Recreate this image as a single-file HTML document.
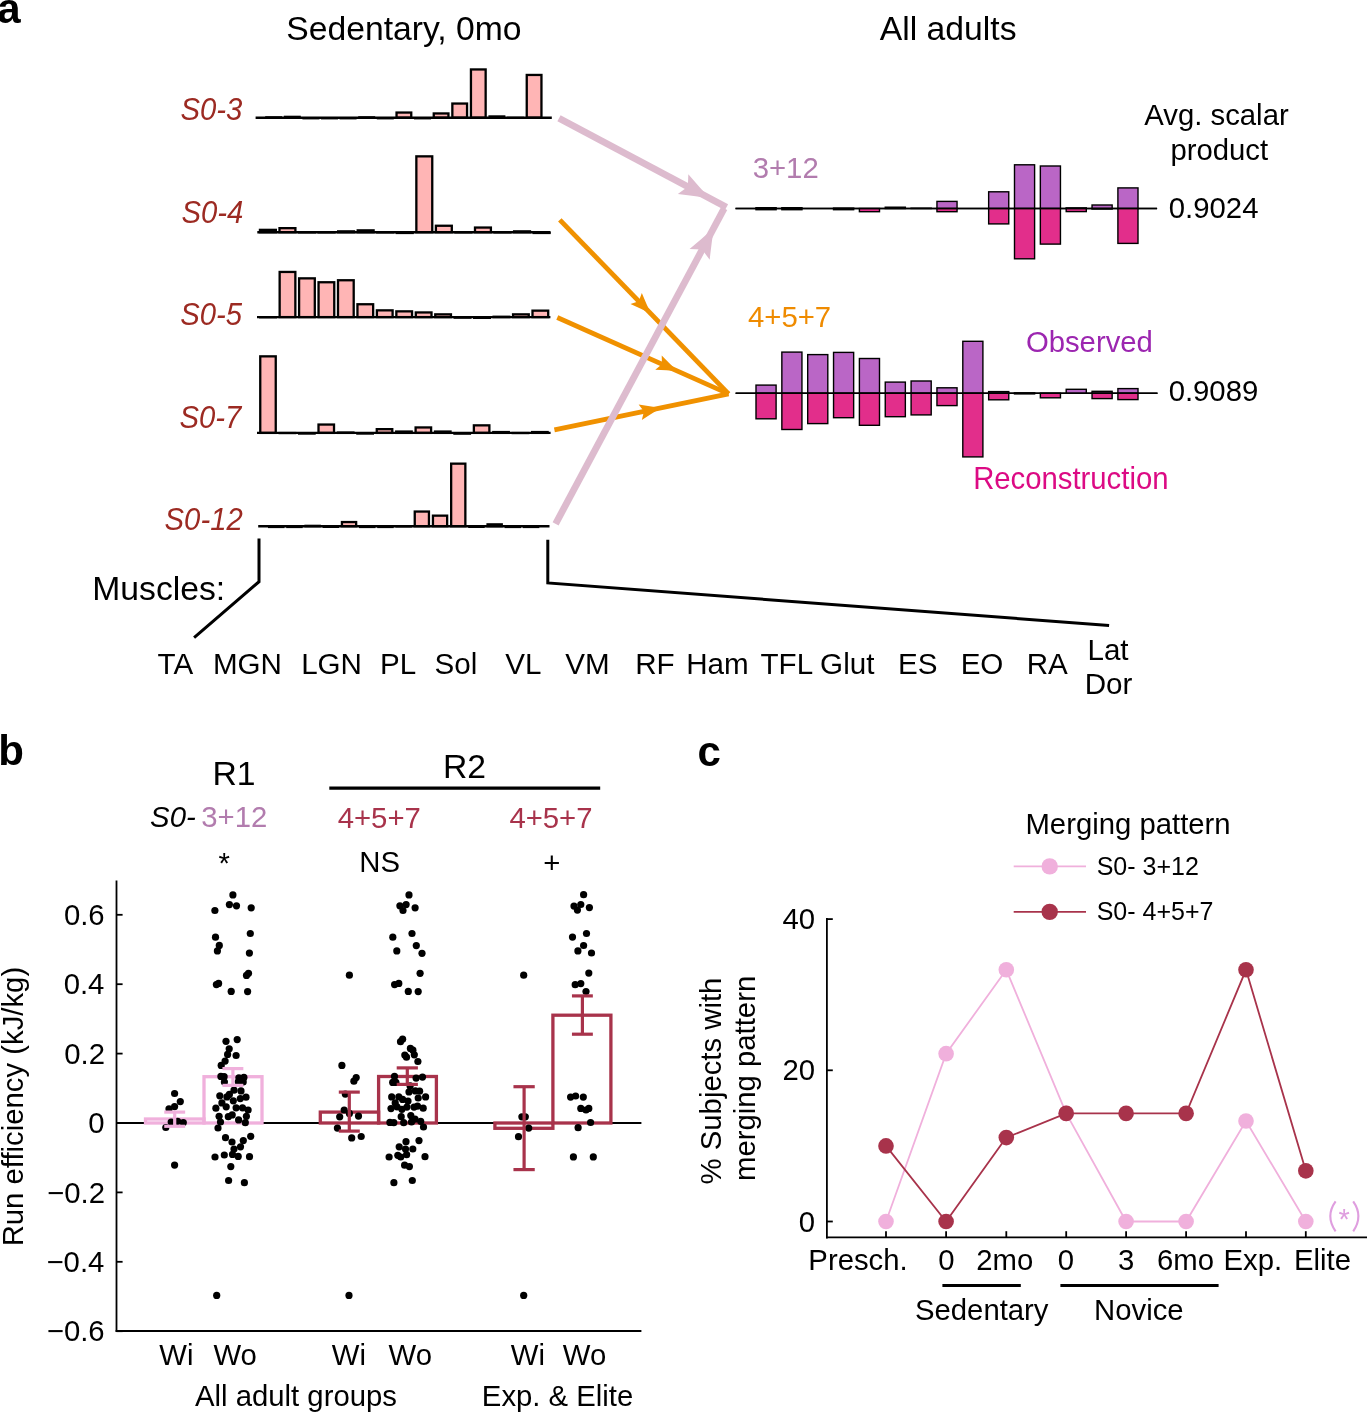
<!DOCTYPE html>
<html><head><meta charset="utf-8"><style>
html,body{margin:0;padding:0;background:#fff;}
svg{display:block;will-change:transform;}
text{font-family:"Liberation Sans",sans-serif;}
</style></head><body>
<svg width="1367" height="1413" viewBox="0 0 1367 1413">
<rect width="1367" height="1413" fill="#fff"/>
<text x="-2.83" y="22.70" font-size="42.0" fill="#000" font-weight="bold">a</text>
<text x="286.28" y="40.10" font-size="33.7" fill="#000">Sedentary, 0mo</text>
<text x="879.80" y="39.90" font-size="33.7" fill="#000">All adults</text>
<text x="0" y="0" transform="translate(180.52,120.40) scale(1,1.07)" font-size="29.3" fill="#9c2a22" font-style="italic">S0-3</text>
<rect x="266.35" y="117.35" width="14.70" height="0.35" fill="#ffb5b5" stroke="#000" stroke-width="2.3"/>
<rect x="284.95" y="116.85" width="14.70" height="0.85" fill="#ffb5b5" stroke="#000" stroke-width="2.3"/>
<rect x="303.55" y="118.25" width="14.70" height="0.01" fill="#ffb5b5" stroke="#000" stroke-width="2.3"/>
<rect x="322.15" y="118.25" width="14.70" height="0.01" fill="#ffb5b5" stroke="#000" stroke-width="2.3"/>
<rect x="340.75" y="118.25" width="14.70" height="0.01" fill="#ffb5b5" stroke="#000" stroke-width="2.3"/>
<rect x="359.35" y="117.35" width="14.70" height="0.35" fill="#ffb5b5" stroke="#000" stroke-width="2.3"/>
<rect x="377.95" y="118.25" width="14.70" height="0.01" fill="#ffb5b5" stroke="#000" stroke-width="2.3"/>
<rect x="396.55" y="112.55" width="14.70" height="5.15" fill="#ffb5b5" stroke="#000" stroke-width="2.3"/>
<rect x="415.15" y="118.25" width="14.70" height="0.01" fill="#ffb5b5" stroke="#000" stroke-width="2.3"/>
<rect x="433.75" y="113.45" width="14.70" height="4.25" fill="#ffb5b5" stroke="#000" stroke-width="2.3"/>
<rect x="452.35" y="103.55" width="14.70" height="14.15" fill="#ffb5b5" stroke="#000" stroke-width="2.3"/>
<rect x="470.95" y="69.45" width="14.70" height="48.25" fill="#ffb5b5" stroke="#000" stroke-width="2.3"/>
<rect x="489.55" y="116.45" width="14.70" height="1.25" fill="#ffb5b5" stroke="#000" stroke-width="2.3"/>
<rect x="508.15" y="117.85" width="14.70" height="0.01" fill="#ffb5b5" stroke="#000" stroke-width="2.3"/>
<rect x="526.75" y="74.95" width="14.70" height="42.75" fill="#ffb5b5" stroke="#000" stroke-width="2.3"/>
<line x1="255.60" y1="117.70" x2="551.80" y2="117.70" stroke="#000" stroke-width="2.4" stroke-linecap="butt"/>
<text x="0" y="0" transform="translate(181.40,223.10) scale(1,1.07)" font-size="29.3" fill="#9c2a22" font-style="italic">S0-4</text>
<rect x="259.95" y="229.85" width="15.90" height="2.35" fill="#ffb5b5" stroke="#000" stroke-width="2.3"/>
<rect x="279.50" y="228.15" width="15.90" height="4.05" fill="#ffb5b5" stroke="#000" stroke-width="2.3"/>
<rect x="299.05" y="232.35" width="15.90" height="0.01" fill="#ffb5b5" stroke="#000" stroke-width="2.3"/>
<rect x="318.60" y="232.35" width="15.90" height="0.01" fill="#ffb5b5" stroke="#000" stroke-width="2.3"/>
<rect x="338.15" y="231.35" width="15.90" height="0.85" fill="#ffb5b5" stroke="#000" stroke-width="2.3"/>
<rect x="357.70" y="230.35" width="15.90" height="1.85" fill="#ffb5b5" stroke="#000" stroke-width="2.3"/>
<rect x="377.25" y="232.35" width="15.90" height="0.01" fill="#ffb5b5" stroke="#000" stroke-width="2.3"/>
<rect x="396.80" y="232.95" width="15.90" height="0.01" fill="#ffb5b5" stroke="#000" stroke-width="2.3"/>
<rect x="416.35" y="156.35" width="15.90" height="75.85" fill="#ffb5b5" stroke="#000" stroke-width="2.3"/>
<rect x="435.90" y="225.75" width="15.90" height="6.45" fill="#ffb5b5" stroke="#000" stroke-width="2.3"/>
<rect x="455.45" y="232.35" width="15.90" height="0.01" fill="#ffb5b5" stroke="#000" stroke-width="2.3"/>
<rect x="475.00" y="227.55" width="15.90" height="4.65" fill="#ffb5b5" stroke="#000" stroke-width="2.3"/>
<rect x="494.55" y="232.35" width="15.90" height="0.01" fill="#ffb5b5" stroke="#000" stroke-width="2.3"/>
<rect x="514.10" y="231.35" width="15.90" height="0.85" fill="#ffb5b5" stroke="#000" stroke-width="2.3"/>
<rect x="533.65" y="232.95" width="15.90" height="0.01" fill="#ffb5b5" stroke="#000" stroke-width="2.3"/>
<line x1="257.30" y1="232.20" x2="550.50" y2="232.20" stroke="#000" stroke-width="2.4" stroke-linecap="butt"/>
<text x="0" y="0" transform="translate(180.23,325.40) scale(1,1.07)" font-size="29.3" fill="#9c2a22" font-style="italic">S0-5</text>
<rect x="260.20" y="317.25" width="15.70" height="0.01" fill="#ffb5b5" stroke="#000" stroke-width="2.3"/>
<rect x="279.65" y="271.95" width="15.70" height="45.15" fill="#ffb5b5" stroke="#000" stroke-width="2.3"/>
<rect x="299.10" y="278.35" width="15.70" height="38.75" fill="#ffb5b5" stroke="#000" stroke-width="2.3"/>
<rect x="318.55" y="282.25" width="15.70" height="34.85" fill="#ffb5b5" stroke="#000" stroke-width="2.3"/>
<rect x="338.00" y="280.25" width="15.70" height="36.85" fill="#ffb5b5" stroke="#000" stroke-width="2.3"/>
<rect x="357.45" y="304.25" width="15.70" height="12.85" fill="#ffb5b5" stroke="#000" stroke-width="2.3"/>
<rect x="376.90" y="310.35" width="15.70" height="6.75" fill="#ffb5b5" stroke="#000" stroke-width="2.3"/>
<rect x="396.35" y="311.35" width="15.70" height="5.75" fill="#ffb5b5" stroke="#000" stroke-width="2.3"/>
<rect x="415.80" y="312.45" width="15.70" height="4.65" fill="#ffb5b5" stroke="#000" stroke-width="2.3"/>
<rect x="435.25" y="314.35" width="15.70" height="2.75" fill="#ffb5b5" stroke="#000" stroke-width="2.3"/>
<rect x="454.70" y="317.65" width="15.70" height="0.01" fill="#ffb5b5" stroke="#000" stroke-width="2.3"/>
<rect x="474.15" y="317.85" width="15.70" height="0.01" fill="#ffb5b5" stroke="#000" stroke-width="2.3"/>
<rect x="493.60" y="316.75" width="15.70" height="0.35" fill="#ffb5b5" stroke="#000" stroke-width="2.3"/>
<rect x="513.05" y="314.35" width="15.70" height="2.75" fill="#ffb5b5" stroke="#000" stroke-width="2.3"/>
<rect x="532.50" y="310.65" width="15.70" height="6.45" fill="#ffb5b5" stroke="#000" stroke-width="2.3"/>
<line x1="257.00" y1="317.10" x2="550.40" y2="317.10" stroke="#000" stroke-width="2.4" stroke-linecap="butt"/>
<text x="0" y="0" transform="translate(179.50,428.30) scale(1,1.07)" font-size="29.3" fill="#9c2a22" font-style="italic">S0-7</text>
<rect x="260.25" y="356.35" width="15.50" height="76.55" fill="#ffb5b5" stroke="#000" stroke-width="2.3"/>
<rect x="279.67" y="433.05" width="15.50" height="0.01" fill="#ffb5b5" stroke="#000" stroke-width="2.3"/>
<rect x="299.09" y="433.55" width="15.50" height="0.01" fill="#ffb5b5" stroke="#000" stroke-width="2.3"/>
<rect x="318.51" y="424.55" width="15.50" height="8.35" fill="#ffb5b5" stroke="#000" stroke-width="2.3"/>
<rect x="337.93" y="432.55" width="15.50" height="0.35" fill="#ffb5b5" stroke="#000" stroke-width="2.3"/>
<rect x="357.35" y="433.55" width="15.50" height="0.01" fill="#ffb5b5" stroke="#000" stroke-width="2.3"/>
<rect x="376.77" y="429.15" width="15.50" height="3.75" fill="#ffb5b5" stroke="#000" stroke-width="2.3"/>
<rect x="396.19" y="431.55" width="15.50" height="1.35" fill="#ffb5b5" stroke="#000" stroke-width="2.3"/>
<rect x="415.61" y="427.45" width="15.50" height="5.45" fill="#ffb5b5" stroke="#000" stroke-width="2.3"/>
<rect x="435.03" y="431.55" width="15.50" height="1.35" fill="#ffb5b5" stroke="#000" stroke-width="2.3"/>
<rect x="454.45" y="433.65" width="15.50" height="0.01" fill="#ffb5b5" stroke="#000" stroke-width="2.3"/>
<rect x="473.87" y="425.35" width="15.50" height="7.55" fill="#ffb5b5" stroke="#000" stroke-width="2.3"/>
<rect x="493.29" y="432.05" width="15.50" height="0.85" fill="#ffb5b5" stroke="#000" stroke-width="2.3"/>
<rect x="512.71" y="433.05" width="15.50" height="0.01" fill="#ffb5b5" stroke="#000" stroke-width="2.3"/>
<rect x="532.13" y="432.05" width="15.50" height="0.85" fill="#ffb5b5" stroke="#000" stroke-width="2.3"/>
<line x1="257.00" y1="432.90" x2="550.60" y2="432.90" stroke="#000" stroke-width="2.4" stroke-linecap="butt"/>
<text x="0" y="0" transform="translate(164.56,529.80) scale(1,1.07)" font-size="29.3" fill="#9c2a22" font-style="italic">S0-12</text>
<rect x="269.15" y="526.95" width="14.20" height="0.01" fill="#ffb5b5" stroke="#000" stroke-width="2.3"/>
<rect x="287.35" y="526.95" width="14.20" height="0.01" fill="#ffb5b5" stroke="#000" stroke-width="2.3"/>
<rect x="305.55" y="525.85" width="14.20" height="0.35" fill="#ffb5b5" stroke="#000" stroke-width="2.3"/>
<rect x="323.75" y="526.85" width="14.20" height="0.01" fill="#ffb5b5" stroke="#000" stroke-width="2.3"/>
<rect x="341.95" y="522.05" width="14.20" height="4.15" fill="#ffb5b5" stroke="#000" stroke-width="2.3"/>
<rect x="360.15" y="526.95" width="14.20" height="0.01" fill="#ffb5b5" stroke="#000" stroke-width="2.3"/>
<rect x="378.35" y="526.95" width="14.20" height="0.01" fill="#ffb5b5" stroke="#000" stroke-width="2.3"/>
<rect x="396.55" y="526.35" width="14.20" height="0.01" fill="#ffb5b5" stroke="#000" stroke-width="2.3"/>
<rect x="414.75" y="511.55" width="14.20" height="14.65" fill="#ffb5b5" stroke="#000" stroke-width="2.3"/>
<rect x="432.95" y="515.65" width="14.20" height="10.55" fill="#ffb5b5" stroke="#000" stroke-width="2.3"/>
<rect x="451.15" y="463.65" width="14.20" height="62.55" fill="#ffb5b5" stroke="#000" stroke-width="2.3"/>
<rect x="469.35" y="526.85" width="14.20" height="0.01" fill="#ffb5b5" stroke="#000" stroke-width="2.3"/>
<rect x="487.55" y="524.35" width="14.20" height="1.85" fill="#ffb5b5" stroke="#000" stroke-width="2.3"/>
<rect x="505.75" y="526.95" width="14.20" height="0.01" fill="#ffb5b5" stroke="#000" stroke-width="2.3"/>
<rect x="523.95" y="526.95" width="14.20" height="0.01" fill="#ffb5b5" stroke="#000" stroke-width="2.3"/>
<line x1="258.20" y1="526.20" x2="549.50" y2="526.20" stroke="#000" stroke-width="2.4" stroke-linecap="butt"/>
<line x1="735.50" y1="208.50" x2="1157.10" y2="208.50" stroke="#000" stroke-width="1.6" stroke-linecap="butt"/>
<rect x="756.00" y="207.70" width="20.10" height="0.80" fill="#ba66c6" stroke="#000" stroke-width="1.4"/>
<rect x="756.00" y="208.50" width="20.10" height="1.20" fill="#e22e8b" stroke="#000" stroke-width="1.4"/>
<rect x="781.85" y="207.70" width="20.10" height="0.80" fill="#ba66c6" stroke="#000" stroke-width="1.4"/>
<rect x="781.85" y="208.50" width="20.10" height="1.20" fill="#e22e8b" stroke="#000" stroke-width="1.4"/>
<rect x="833.55" y="208.20" width="20.10" height="0.30" fill="#ba66c6" stroke="#000" stroke-width="1.4"/>
<rect x="833.55" y="208.50" width="20.10" height="1.20" fill="#e22e8b" stroke="#000" stroke-width="1.4"/>
<rect x="859.40" y="208.50" width="20.10" height="3.20" fill="#e22e8b" stroke="#000" stroke-width="1.4"/>
<rect x="885.25" y="207.20" width="20.10" height="1.30" fill="#ba66c6" stroke="#000" stroke-width="1.4"/>
<rect x="911.10" y="208.20" width="20.10" height="0.30" fill="#ba66c6" stroke="#000" stroke-width="1.4"/>
<rect x="936.95" y="201.40" width="20.10" height="7.10" fill="#ba66c6" stroke="#000" stroke-width="1.4"/>
<rect x="936.95" y="208.50" width="20.10" height="3.20" fill="#e22e8b" stroke="#000" stroke-width="1.4"/>
<rect x="988.65" y="191.80" width="20.10" height="16.70" fill="#ba66c6" stroke="#000" stroke-width="1.4"/>
<rect x="988.65" y="208.50" width="20.10" height="15.40" fill="#e22e8b" stroke="#000" stroke-width="1.4"/>
<rect x="1014.50" y="164.80" width="20.10" height="43.70" fill="#ba66c6" stroke="#000" stroke-width="1.4"/>
<rect x="1014.50" y="208.50" width="20.10" height="50.30" fill="#e22e8b" stroke="#000" stroke-width="1.4"/>
<rect x="1040.35" y="166.00" width="20.10" height="42.50" fill="#ba66c6" stroke="#000" stroke-width="1.4"/>
<rect x="1040.35" y="208.50" width="20.10" height="35.60" fill="#e22e8b" stroke="#000" stroke-width="1.4"/>
<rect x="1066.20" y="207.90" width="20.10" height="0.60" fill="#ba66c6" stroke="#000" stroke-width="1.4"/>
<rect x="1066.20" y="208.50" width="20.10" height="3.10" fill="#e22e8b" stroke="#000" stroke-width="1.4"/>
<rect x="1092.05" y="205.00" width="20.10" height="3.50" fill="#ba66c6" stroke="#000" stroke-width="1.4"/>
<rect x="1092.05" y="208.50" width="20.10" height="0.50" fill="#e22e8b" stroke="#000" stroke-width="1.4"/>
<rect x="1117.90" y="187.90" width="20.10" height="20.60" fill="#ba66c6" stroke="#000" stroke-width="1.4"/>
<rect x="1117.90" y="208.50" width="20.10" height="34.90" fill="#e22e8b" stroke="#000" stroke-width="1.4"/>
<line x1="735.50" y1="208.50" x2="1157.10" y2="208.50" stroke="#000" stroke-width="1.6" stroke-linecap="butt"/>
<line x1="735.60" y1="393.20" x2="1157.50" y2="393.20" stroke="#000" stroke-width="1.6" stroke-linecap="butt"/>
<rect x="756.00" y="385.10" width="20.10" height="8.10" fill="#ba66c6" stroke="#000" stroke-width="1.4"/>
<rect x="756.00" y="393.20" width="20.10" height="25.60" fill="#e22e8b" stroke="#000" stroke-width="1.4"/>
<rect x="781.85" y="352.10" width="20.10" height="41.10" fill="#ba66c6" stroke="#000" stroke-width="1.4"/>
<rect x="781.85" y="393.20" width="20.10" height="36.30" fill="#e22e8b" stroke="#000" stroke-width="1.4"/>
<rect x="807.70" y="354.60" width="20.10" height="38.60" fill="#ba66c6" stroke="#000" stroke-width="1.4"/>
<rect x="807.70" y="393.20" width="20.10" height="30.40" fill="#e22e8b" stroke="#000" stroke-width="1.4"/>
<rect x="833.55" y="352.40" width="20.10" height="40.80" fill="#ba66c6" stroke="#000" stroke-width="1.4"/>
<rect x="833.55" y="393.20" width="20.10" height="24.50" fill="#e22e8b" stroke="#000" stroke-width="1.4"/>
<rect x="859.40" y="358.50" width="20.10" height="34.70" fill="#ba66c6" stroke="#000" stroke-width="1.4"/>
<rect x="859.40" y="393.20" width="20.10" height="32.10" fill="#e22e8b" stroke="#000" stroke-width="1.4"/>
<rect x="885.25" y="382.10" width="20.10" height="11.10" fill="#ba66c6" stroke="#000" stroke-width="1.4"/>
<rect x="885.25" y="393.20" width="20.10" height="23.50" fill="#e22e8b" stroke="#000" stroke-width="1.4"/>
<rect x="911.10" y="381.00" width="20.10" height="12.20" fill="#ba66c6" stroke="#000" stroke-width="1.4"/>
<rect x="911.10" y="393.20" width="20.10" height="21.70" fill="#e22e8b" stroke="#000" stroke-width="1.4"/>
<rect x="936.95" y="387.80" width="20.10" height="5.40" fill="#ba66c6" stroke="#000" stroke-width="1.4"/>
<rect x="936.95" y="393.20" width="20.10" height="12.40" fill="#e22e8b" stroke="#000" stroke-width="1.4"/>
<rect x="962.80" y="341.30" width="20.10" height="51.90" fill="#ba66c6" stroke="#000" stroke-width="1.4"/>
<rect x="962.80" y="393.20" width="20.10" height="63.70" fill="#e22e8b" stroke="#000" stroke-width="1.4"/>
<rect x="988.65" y="391.60" width="20.10" height="1.60" fill="#ba66c6" stroke="#000" stroke-width="1.4"/>
<rect x="988.65" y="393.20" width="20.10" height="6.60" fill="#e22e8b" stroke="#000" stroke-width="1.4"/>
<rect x="1014.50" y="393.00" width="20.10" height="0.20" fill="#ba66c6" stroke="#000" stroke-width="1.4"/>
<rect x="1014.50" y="393.20" width="20.10" height="0.70" fill="#e22e8b" stroke="#000" stroke-width="1.4"/>
<rect x="1040.35" y="393.20" width="20.10" height="4.60" fill="#e22e8b" stroke="#000" stroke-width="1.4"/>
<rect x="1066.20" y="389.30" width="20.10" height="3.90" fill="#ba66c6" stroke="#000" stroke-width="1.4"/>
<rect x="1092.05" y="391.30" width="20.10" height="1.90" fill="#ba66c6" stroke="#000" stroke-width="1.4"/>
<rect x="1092.05" y="393.20" width="20.10" height="5.40" fill="#e22e8b" stroke="#000" stroke-width="1.4"/>
<rect x="1117.90" y="388.60" width="20.10" height="4.60" fill="#ba66c6" stroke="#000" stroke-width="1.4"/>
<rect x="1117.90" y="393.20" width="20.10" height="6.40" fill="#e22e8b" stroke="#000" stroke-width="1.4"/>
<line x1="735.60" y1="393.20" x2="1157.50" y2="393.20" stroke="#000" stroke-width="1.6" stroke-linecap="butt"/>
<text x="1144.30" y="124.60" font-size="29.3" fill="#000">Avg. scalar</text>
<text x="1170.40" y="159.60" font-size="29.3" fill="#000">product</text>
<text x="1168.83" y="218.10" font-size="29.3" fill="#000">0.9024</text>
<text x="1168.63" y="401.10" font-size="29.3" fill="#000">0.9089</text>
<text x="752.73" y="177.90" font-size="29.3" fill="#b27cae">3+12</text>
<text x="748.01" y="326.60" font-size="29.3" fill="#ef8b00">4+5+7</text>
<text x="0" y="0" transform="translate(1025.88,352.30) scale(1,1.03)" font-size="29.3" fill="#9c26b0">Observed</text>
<text x="0" y="0" transform="translate(973.16,488.70) scale(1,1.04)" font-size="29.3" fill="#dc0a84">Reconstruction</text>
<line x1="559.80" y1="219.80" x2="728.60" y2="393.90" stroke="#f09100" stroke-width="4.8" stroke-linecap="butt"/>
<path d="M650.78,313.64 Q646.14,303.51 641.83,293.06 L638.79,301.27 L630.49,304.06 Q640.80,308.68 650.78,313.64Z" fill="#f09100"/>
<line x1="557.30" y1="317.50" x2="728.60" y2="393.90" stroke="#f09100" stroke-width="4.8" stroke-linecap="butt"/>
<path d="M677.67,371.19 Q669.59,363.52 661.71,355.42 L661.94,364.17 L655.27,369.85 Q666.57,370.30 677.67,371.19Z" fill="#f09100"/>
<line x1="554.40" y1="429.90" x2="728.60" y2="393.90" stroke="#f09100" stroke-width="4.8" stroke-linecap="butt"/>
<path d="M660.80,407.91 Q649.77,406.40 638.64,404.42 L643.94,411.40 L641.84,419.90 Q651.27,413.67 660.80,407.91Z" fill="#f09100"/>
<line x1="559.00" y1="118.30" x2="726.50" y2="207.30" stroke="#ddbbce" stroke-width="6.8" stroke-linecap="butt"/>
<path d="M709.57,198.30 Q698.79,186.62 688.33,174.33 L687.84,186.76 L677.82,194.12 Q693.85,195.91 709.57,198.30Z" fill="#ddbbce"/>
<line x1="555.60" y1="523.80" x2="724.20" y2="208.40" stroke="#ddbbce" stroke-width="6.8" stroke-linecap="butt"/>
<path d="M713.76,227.92 Q701.97,238.62 689.57,249.00 L702.17,249.62 L709.68,259.75 Q711.42,243.68 713.76,227.92Z" fill="#ddbbce"/>
<polyline points="259,538.6 259,581.7 194.1,637.7" fill="none" stroke="#000" stroke-width="3"/>
<polyline points="547.8,539.8 547.8,582.9 1109.1,625.5" fill="none" stroke="#000" stroke-width="3"/>
<text x="92.30" y="599.90" font-size="33.7" fill="#000">Muscles:</text>
<text x="157.51" y="674.00" font-size="29.6" fill="#000">TA</text>
<text x="212.93" y="674.00" font-size="29.6" fill="#000">MGN</text>
<text x="301.13" y="674.00" font-size="29.6" fill="#000">LGN</text>
<text x="380.03" y="674.00" font-size="29.6" fill="#000">PL</text>
<text x="434.47" y="674.00" font-size="29.6" fill="#000">Sol</text>
<text x="505.15" y="674.00" font-size="29.6" fill="#000">VL</text>
<text x="565.15" y="674.00" font-size="29.6" fill="#000">VM</text>
<text x="635.13" y="674.00" font-size="29.6" fill="#000">RF</text>
<text x="686.13" y="674.00" font-size="29.6" fill="#000">Ham</text>
<text x="760.51" y="674.00" font-size="29.6" fill="#000">TFL</text>
<text x="820.12" y="674.00" font-size="29.6" fill="#000">Glut</text>
<text x="897.93" y="674.00" font-size="29.6" fill="#000">ES</text>
<text x="960.63" y="674.00" font-size="29.6" fill="#000">EO</text>
<text x="1026.73" y="674.00" font-size="29.6" fill="#000">RA</text>
<text x="1087.43" y="659.50" font-size="29.6" fill="#000">Lat</text>
<text x="1084.63" y="694.10" font-size="29.6" fill="#000">Dor</text>
<text x="-1.67" y="764.60" font-size="42.0" fill="#000" font-weight="bold">b</text>
<text x="212.40" y="784.50" font-size="33.7" fill="#000">R1</text>
<text x="442.90" y="778.10" font-size="33.7" fill="#000">R2</text>
<line x1="329.30" y1="788.10" x2="600.20" y2="788.10" stroke="#000" stroke-width="3.2" stroke-linecap="butt"/>
<text x="150.12" y="827.10" font-size="29.3" fill="#000" font-style="italic">S0-</text>
<text x="201.33" y="827.10" font-size="29.3" fill="#b27cae">3+12</text>
<text x="337.71" y="828.00" font-size="29.3" fill="#a8334b">4+5+7</text>
<text x="509.41" y="828.00" font-size="29.3" fill="#a8334b">4+5+7</text>
<text x="218.46" y="873.12" font-size="29.3" fill="#000">*</text>
<text x="359.36" y="871.50" font-size="29.3" fill="#000">NS</text>
<text x="543.24" y="872.59" font-size="29.3" fill="#000">+</text>
<line x1="116.50" y1="880.50" x2="116.50" y2="1331.80" stroke="#000" stroke-width="1.8" stroke-linecap="butt"/>
<line x1="115.60" y1="1331.00" x2="641.40" y2="1331.00" stroke="#000" stroke-width="1.8" stroke-linecap="butt"/>
<line x1="116.50" y1="1123.00" x2="641.40" y2="1123.00" stroke="#000" stroke-width="1.9" stroke-linecap="butt"/>
<line x1="116.50" y1="914.80" x2="122.60" y2="914.80" stroke="#000" stroke-width="1.8" stroke-linecap="butt"/>
<text x="63.94" y="924.91" font-size="29.3" fill="#000">0.6</text>
<line x1="116.50" y1="984.20" x2="122.60" y2="984.20" stroke="#000" stroke-width="1.8" stroke-linecap="butt"/>
<text x="63.65" y="994.31" font-size="29.3" fill="#000">0.4</text>
<line x1="116.50" y1="1053.60" x2="122.60" y2="1053.60" stroke="#000" stroke-width="1.8" stroke-linecap="butt"/>
<text x="64.24" y="1063.71" font-size="29.3" fill="#000">0.2</text>
<line x1="116.50" y1="1123.00" x2="122.60" y2="1123.00" stroke="#000" stroke-width="1.8" stroke-linecap="butt"/>
<text x="88.26" y="1133.11" font-size="29.3" fill="#000">0</text>
<line x1="116.50" y1="1192.40" x2="122.60" y2="1192.40" stroke="#000" stroke-width="1.8" stroke-linecap="butt"/>
<text x="47.10" y="1202.51" font-size="29.3" fill="#000">−0.2</text>
<line x1="116.50" y1="1261.80" x2="122.60" y2="1261.80" stroke="#000" stroke-width="1.8" stroke-linecap="butt"/>
<text x="46.51" y="1271.91" font-size="29.3" fill="#000">−0.4</text>
<line x1="116.50" y1="1331.20" x2="122.60" y2="1331.20" stroke="#000" stroke-width="1.8" stroke-linecap="butt"/>
<text x="46.80" y="1341.31" font-size="29.3" fill="#000">−0.6</text>
<text x="0" y="0" font-size="29.3" fill="#000" transform="translate(23.10,1246.34) rotate(-90)">Run efficiency (kJ/kg)</text>
<text x="159.35" y="1364.60" font-size="29.3" fill="#000">Wi</text>
<text x="213.45" y="1364.60" font-size="29.3" fill="#000">Wo</text>
<text x="331.85" y="1364.60" font-size="29.3" fill="#000">Wi</text>
<text x="388.55" y="1364.60" font-size="29.3" fill="#000">Wo</text>
<text x="510.75" y="1364.60" font-size="29.3" fill="#000">Wi</text>
<text x="562.85" y="1364.60" font-size="29.3" fill="#000">Wo</text>
<text x="195.00" y="1406.10" font-size="29.3" fill="#000">All adult groups</text>
<text x="481.86" y="1406.10" font-size="29.3" fill="#000">Exp. &amp; Elite</text>
<rect x="145.50" y="1119.00" width="58.50" height="4.00" fill="none" stroke="#f0b0dc" stroke-width="3.3"/>
<rect x="204.00" y="1076.70" width="58.00" height="46.30" fill="none" stroke="#f0b0dc" stroke-width="3.3"/>
<rect x="320.30" y="1112.10" width="58.30" height="10.90" fill="none" stroke="#a8334b" stroke-width="3.3"/>
<rect x="378.60" y="1076.50" width="57.80" height="46.50" fill="none" stroke="#a8334b" stroke-width="3.3"/>
<rect x="494.90" y="1123.00" width="58.00" height="5.30" fill="none" stroke="#a8334b" stroke-width="3.3"/>
<rect x="552.90" y="1015.20" width="58.00" height="107.80" fill="none" stroke="#a8334b" stroke-width="3.3"/>
<circle cx="174.60" cy="1093.50" r="3.6" fill="#000"/>
<circle cx="180.30" cy="1101.60" r="3.6" fill="#000"/>
<circle cx="174.60" cy="1106.60" r="3.6" fill="#000"/>
<circle cx="169.00" cy="1108.90" r="3.6" fill="#000"/>
<circle cx="171.20" cy="1122.00" r="3.6" fill="#000"/>
<circle cx="177.60" cy="1121.30" r="3.6" fill="#000"/>
<circle cx="183.30" cy="1122.50" r="3.6" fill="#000"/>
<circle cx="165.80" cy="1127.50" r="3.6" fill="#000"/>
<circle cx="174.60" cy="1165.10" r="3.6" fill="#000"/>
<circle cx="232.90" cy="894.90" r="3.6" fill="#000"/>
<circle cx="229.40" cy="904.60" r="3.6" fill="#000"/>
<circle cx="236.50" cy="905.80" r="3.6" fill="#000"/>
<circle cx="214.90" cy="910.50" r="3.6" fill="#000"/>
<circle cx="251.20" cy="907.80" r="3.6" fill="#000"/>
<circle cx="215.50" cy="937.20" r="3.6" fill="#000"/>
<circle cx="250.30" cy="933.50" r="3.6" fill="#000"/>
<circle cx="219.30" cy="945.40" r="3.6" fill="#000"/>
<circle cx="217.40" cy="950.90" r="3.6" fill="#000"/>
<circle cx="249.40" cy="953.10" r="3.6" fill="#000"/>
<circle cx="248.50" cy="973.30" r="3.6" fill="#000"/>
<circle cx="246.50" cy="975.40" r="3.6" fill="#000"/>
<circle cx="218.60" cy="983.40" r="3.6" fill="#000"/>
<circle cx="216.40" cy="984.60" r="3.6" fill="#000"/>
<circle cx="231.20" cy="991.40" r="3.6" fill="#000"/>
<circle cx="247.60" cy="991.60" r="3.6" fill="#000"/>
<circle cx="237.20" cy="1039.60" r="3.6" fill="#000"/>
<circle cx="226.00" cy="1041.30" r="3.6" fill="#000"/>
<circle cx="229.20" cy="1048.80" r="3.6" fill="#000"/>
<circle cx="227.60" cy="1054.40" r="3.6" fill="#000"/>
<circle cx="236.10" cy="1055.50" r="3.6" fill="#000"/>
<circle cx="225.10" cy="1061.10" r="3.6" fill="#000"/>
<circle cx="221.20" cy="1065.40" r="3.6" fill="#000"/>
<circle cx="220.90" cy="1076.40" r="3.6" fill="#000"/>
<circle cx="224.10" cy="1076.70" r="3.6" fill="#000"/>
<circle cx="224.40" cy="1082.00" r="3.6" fill="#000"/>
<circle cx="238.90" cy="1077.80" r="3.6" fill="#000"/>
<circle cx="243.90" cy="1077.40" r="3.6" fill="#000"/>
<circle cx="243.20" cy="1082.00" r="3.6" fill="#000"/>
<circle cx="234.00" cy="1090.20" r="3.6" fill="#000"/>
<circle cx="241.00" cy="1090.90" r="3.6" fill="#000"/>
<circle cx="219.80" cy="1095.80" r="3.6" fill="#000"/>
<circle cx="226.90" cy="1096.90" r="3.6" fill="#000"/>
<circle cx="246.00" cy="1097.20" r="3.6" fill="#000"/>
<circle cx="233.30" cy="1100.80" r="3.6" fill="#000"/>
<circle cx="240.30" cy="1098.60" r="3.6" fill="#000"/>
<circle cx="238.30" cy="1081.80" r="3.6" fill="#000"/>
<circle cx="229.40" cy="1094.40" r="3.6" fill="#000"/>
<circle cx="221.90" cy="1102.90" r="3.6" fill="#000"/>
<circle cx="226.20" cy="1106.80" r="3.6" fill="#000"/>
<circle cx="215.90" cy="1108.20" r="3.6" fill="#000"/>
<circle cx="236.10" cy="1107.80" r="3.6" fill="#000"/>
<circle cx="242.50" cy="1107.80" r="3.6" fill="#000"/>
<circle cx="248.10" cy="1110.00" r="3.6" fill="#000"/>
<circle cx="219.10" cy="1116.30" r="3.6" fill="#000"/>
<circle cx="228.30" cy="1116.70" r="3.6" fill="#000"/>
<circle cx="232.20" cy="1114.90" r="3.6" fill="#000"/>
<circle cx="246.40" cy="1116.30" r="3.6" fill="#000"/>
<circle cx="238.60" cy="1119.90" r="3.6" fill="#000"/>
<circle cx="220.50" cy="1122.00" r="3.6" fill="#000"/>
<circle cx="245.30" cy="1122.70" r="3.6" fill="#000"/>
<circle cx="218.00" cy="1128.00" r="3.6" fill="#000"/>
<circle cx="225.50" cy="1137.70" r="3.6" fill="#000"/>
<circle cx="250.70" cy="1136.30" r="3.6" fill="#000"/>
<circle cx="232.00" cy="1142.00" r="3.6" fill="#000"/>
<circle cx="243.30" cy="1140.60" r="3.6" fill="#000"/>
<circle cx="240.50" cy="1146.80" r="3.6" fill="#000"/>
<circle cx="234.00" cy="1149.00" r="3.6" fill="#000"/>
<circle cx="232.50" cy="1154.40" r="3.6" fill="#000"/>
<circle cx="238.20" cy="1156.40" r="3.6" fill="#000"/>
<circle cx="215.00" cy="1157.00" r="3.6" fill="#000"/>
<circle cx="224.30" cy="1155.00" r="3.6" fill="#000"/>
<circle cx="249.50" cy="1156.70" r="3.6" fill="#000"/>
<circle cx="230.80" cy="1166.60" r="3.6" fill="#000"/>
<circle cx="228.60" cy="1180.50" r="3.6" fill="#000"/>
<circle cx="244.40" cy="1182.70" r="3.6" fill="#000"/>
<circle cx="216.70" cy="1295.40" r="3.6" fill="#000"/>
<circle cx="349.40" cy="975.20" r="3.6" fill="#000"/>
<circle cx="341.90" cy="1065.40" r="3.6" fill="#000"/>
<circle cx="356.20" cy="1077.60" r="3.6" fill="#000"/>
<circle cx="353.90" cy="1081.20" r="3.6" fill="#000"/>
<circle cx="345.30" cy="1094.10" r="3.6" fill="#000"/>
<circle cx="344.20" cy="1110.00" r="3.6" fill="#000"/>
<circle cx="339.70" cy="1116.80" r="3.6" fill="#000"/>
<circle cx="349.40" cy="1113.40" r="3.6" fill="#000"/>
<circle cx="358.50" cy="1116.10" r="3.6" fill="#000"/>
<circle cx="337.40" cy="1128.10" r="3.6" fill="#000"/>
<circle cx="351.70" cy="1137.90" r="3.6" fill="#000"/>
<circle cx="361.20" cy="1136.50" r="3.6" fill="#000"/>
<circle cx="349.00" cy="1295.40" r="3.6" fill="#000"/>
<circle cx="409.00" cy="894.90" r="3.6" fill="#000"/>
<circle cx="399.90" cy="905.80" r="3.6" fill="#000"/>
<circle cx="406.10" cy="904.60" r="3.6" fill="#000"/>
<circle cx="403.00" cy="910.50" r="3.6" fill="#000"/>
<circle cx="415.10" cy="907.80" r="3.6" fill="#000"/>
<circle cx="392.80" cy="937.20" r="3.6" fill="#000"/>
<circle cx="412.00" cy="933.50" r="3.6" fill="#000"/>
<circle cx="396.80" cy="950.90" r="3.6" fill="#000"/>
<circle cx="416.30" cy="945.60" r="3.6" fill="#000"/>
<circle cx="422.00" cy="953.30" r="3.6" fill="#000"/>
<circle cx="420.10" cy="973.30" r="3.6" fill="#000"/>
<circle cx="394.60" cy="984.60" r="3.6" fill="#000"/>
<circle cx="398.80" cy="983.40" r="3.6" fill="#000"/>
<circle cx="408.30" cy="991.40" r="3.6" fill="#000"/>
<circle cx="418.20" cy="991.60" r="3.6" fill="#000"/>
<circle cx="402.60" cy="1039.20" r="3.6" fill="#000"/>
<circle cx="400.50" cy="1041.70" r="3.6" fill="#000"/>
<circle cx="410.40" cy="1048.40" r="3.6" fill="#000"/>
<circle cx="412.90" cy="1050.20" r="3.6" fill="#000"/>
<circle cx="404.80" cy="1055.10" r="3.6" fill="#000"/>
<circle cx="406.50" cy="1057.20" r="3.6" fill="#000"/>
<circle cx="414.30" cy="1054.80" r="3.6" fill="#000"/>
<circle cx="417.90" cy="1061.50" r="3.6" fill="#000"/>
<circle cx="394.50" cy="1076.40" r="3.6" fill="#000"/>
<circle cx="392.70" cy="1082.40" r="3.6" fill="#000"/>
<circle cx="395.90" cy="1082.40" r="3.6" fill="#000"/>
<circle cx="416.10" cy="1078.10" r="3.6" fill="#000"/>
<circle cx="422.50" cy="1077.10" r="3.6" fill="#000"/>
<circle cx="410.10" cy="1085.90" r="3.6" fill="#000"/>
<circle cx="409.00" cy="1091.90" r="3.6" fill="#000"/>
<circle cx="415.40" cy="1090.90" r="3.6" fill="#000"/>
<circle cx="419.60" cy="1091.20" r="3.6" fill="#000"/>
<circle cx="425.60" cy="1096.90" r="3.6" fill="#000"/>
<circle cx="418.20" cy="1098.00" r="3.6" fill="#000"/>
<circle cx="391.70" cy="1096.90" r="3.6" fill="#000"/>
<circle cx="398.80" cy="1096.90" r="3.6" fill="#000"/>
<circle cx="402.60" cy="1099.40" r="3.6" fill="#000"/>
<circle cx="408.00" cy="1101.10" r="3.6" fill="#000"/>
<circle cx="395.20" cy="1102.90" r="3.6" fill="#000"/>
<circle cx="391.00" cy="1108.60" r="3.6" fill="#000"/>
<circle cx="397.00" cy="1106.80" r="3.6" fill="#000"/>
<circle cx="401.90" cy="1109.30" r="3.6" fill="#000"/>
<circle cx="406.90" cy="1107.10" r="3.6" fill="#000"/>
<circle cx="414.00" cy="1107.10" r="3.6" fill="#000"/>
<circle cx="417.50" cy="1106.10" r="3.6" fill="#000"/>
<circle cx="423.20" cy="1108.20" r="3.6" fill="#000"/>
<circle cx="401.20" cy="1116.70" r="3.6" fill="#000"/>
<circle cx="410.80" cy="1115.60" r="3.6" fill="#000"/>
<circle cx="415.00" cy="1119.20" r="3.6" fill="#000"/>
<circle cx="420.70" cy="1121.30" r="3.6" fill="#000"/>
<circle cx="389.90" cy="1122.40" r="3.6" fill="#000"/>
<circle cx="393.80" cy="1122.70" r="3.6" fill="#000"/>
<circle cx="403.70" cy="1122.70" r="3.6" fill="#000"/>
<circle cx="411.50" cy="1122.00" r="3.6" fill="#000"/>
<circle cx="423.50" cy="1127.00" r="3.6" fill="#000"/>
<circle cx="406.00" cy="1141.70" r="3.6" fill="#000"/>
<circle cx="419.00" cy="1140.60" r="3.6" fill="#000"/>
<circle cx="399.20" cy="1146.80" r="3.6" fill="#000"/>
<circle cx="405.50" cy="1149.00" r="3.6" fill="#000"/>
<circle cx="412.80" cy="1149.00" r="3.6" fill="#000"/>
<circle cx="389.10" cy="1157.00" r="3.6" fill="#000"/>
<circle cx="397.80" cy="1155.30" r="3.6" fill="#000"/>
<circle cx="400.70" cy="1157.00" r="3.6" fill="#000"/>
<circle cx="406.60" cy="1154.70" r="3.6" fill="#000"/>
<circle cx="425.00" cy="1156.70" r="3.6" fill="#000"/>
<circle cx="404.60" cy="1165.20" r="3.6" fill="#000"/>
<circle cx="409.40" cy="1166.60" r="3.6" fill="#000"/>
<circle cx="393.90" cy="1182.70" r="3.6" fill="#000"/>
<circle cx="412.30" cy="1180.50" r="3.6" fill="#000"/>
<circle cx="523.70" cy="975.20" r="3.6" fill="#000"/>
<circle cx="521.90" cy="1116.80" r="3.6" fill="#000"/>
<circle cx="525.30" cy="1116.80" r="3.6" fill="#000"/>
<circle cx="528.70" cy="1128.10" r="3.6" fill="#000"/>
<circle cx="518.50" cy="1136.70" r="3.6" fill="#000"/>
<circle cx="523.70" cy="1295.40" r="3.6" fill="#000"/>
<circle cx="583.60" cy="894.70" r="3.6" fill="#000"/>
<circle cx="574.00" cy="906.10" r="3.6" fill="#000"/>
<circle cx="580.80" cy="904.50" r="3.6" fill="#000"/>
<circle cx="577.40" cy="910.10" r="3.6" fill="#000"/>
<circle cx="589.40" cy="907.60" r="3.6" fill="#000"/>
<circle cx="586.50" cy="933.50" r="3.6" fill="#000"/>
<circle cx="572.50" cy="937.10" r="3.6" fill="#000"/>
<circle cx="583.60" cy="945.50" r="3.6" fill="#000"/>
<circle cx="577.90" cy="950.90" r="3.6" fill="#000"/>
<circle cx="591.50" cy="953.00" r="3.6" fill="#000"/>
<circle cx="588.80" cy="973.10" r="3.6" fill="#000"/>
<circle cx="575.20" cy="984.70" r="3.6" fill="#000"/>
<circle cx="580.80" cy="983.60" r="3.6" fill="#000"/>
<circle cx="586.00" cy="991.50" r="3.6" fill="#000"/>
<circle cx="570.60" cy="1097.10" r="3.6" fill="#000"/>
<circle cx="575.60" cy="1096.00" r="3.6" fill="#000"/>
<circle cx="583.30" cy="1097.10" r="3.6" fill="#000"/>
<circle cx="580.80" cy="1108.40" r="3.6" fill="#000"/>
<circle cx="586.00" cy="1110.00" r="3.6" fill="#000"/>
<circle cx="588.80" cy="1108.40" r="3.6" fill="#000"/>
<circle cx="590.60" cy="1122.50" r="3.6" fill="#000"/>
<circle cx="578.10" cy="1127.70" r="3.6" fill="#000"/>
<circle cx="573.40" cy="1156.90" r="3.6" fill="#000"/>
<circle cx="593.30" cy="1156.90" r="3.6" fill="#000"/>
<line x1="174.70" y1="1112.10" x2="174.70" y2="1126.30" stroke="#f0b0dc" stroke-width="3.2" stroke-linecap="butt"/>
<line x1="164.25" y1="1112.10" x2="185.15" y2="1112.10" stroke="#f0b0dc" stroke-width="3.2" stroke-linecap="butt"/>
<line x1="164.25" y1="1126.30" x2="185.15" y2="1126.30" stroke="#f0b0dc" stroke-width="3.2" stroke-linecap="butt"/>
<line x1="232.90" y1="1068.60" x2="232.90" y2="1085.40" stroke="#f0b0dc" stroke-width="3.2" stroke-linecap="butt"/>
<line x1="222.45" y1="1068.60" x2="243.35" y2="1068.60" stroke="#f0b0dc" stroke-width="3.2" stroke-linecap="butt"/>
<line x1="222.45" y1="1085.40" x2="243.35" y2="1085.40" stroke="#f0b0dc" stroke-width="3.2" stroke-linecap="butt"/>
<line x1="349.30" y1="1092.10" x2="349.30" y2="1131.10" stroke="#a8334b" stroke-width="3.2" stroke-linecap="butt"/>
<line x1="338.80" y1="1092.10" x2="359.80" y2="1092.10" stroke="#a8334b" stroke-width="3.2" stroke-linecap="butt"/>
<line x1="338.80" y1="1131.10" x2="359.80" y2="1131.10" stroke="#a8334b" stroke-width="3.2" stroke-linecap="butt"/>
<line x1="407.30" y1="1067.90" x2="407.30" y2="1084.40" stroke="#a8334b" stroke-width="3.2" stroke-linecap="butt"/>
<line x1="396.70" y1="1067.90" x2="417.90" y2="1067.90" stroke="#a8334b" stroke-width="3.2" stroke-linecap="butt"/>
<line x1="396.70" y1="1084.40" x2="417.90" y2="1084.40" stroke="#a8334b" stroke-width="3.2" stroke-linecap="butt"/>
<line x1="524.10" y1="1086.70" x2="524.10" y2="1169.60" stroke="#a8334b" stroke-width="3.2" stroke-linecap="butt"/>
<line x1="513.45" y1="1086.70" x2="534.75" y2="1086.70" stroke="#a8334b" stroke-width="3.2" stroke-linecap="butt"/>
<line x1="513.45" y1="1169.60" x2="534.75" y2="1169.60" stroke="#a8334b" stroke-width="3.2" stroke-linecap="butt"/>
<line x1="582.40" y1="995.90" x2="582.40" y2="1034.20" stroke="#a8334b" stroke-width="3.2" stroke-linecap="butt"/>
<line x1="571.95" y1="995.90" x2="592.85" y2="995.90" stroke="#a8334b" stroke-width="3.2" stroke-linecap="butt"/>
<line x1="571.95" y1="1034.20" x2="592.85" y2="1034.20" stroke="#a8334b" stroke-width="3.2" stroke-linecap="butt"/>
<text x="697.42" y="765.50" font-size="42.0" fill="#000" font-weight="bold">c</text>
<line x1="826.90" y1="918.00" x2="826.90" y2="1238.40" stroke="#000" stroke-width="1.8" stroke-linecap="butt"/>
<line x1="826.00" y1="1237.30" x2="1367.00" y2="1237.30" stroke="#000" stroke-width="1.8" stroke-linecap="butt"/>
<line x1="826.90" y1="919.10" x2="832.80" y2="919.10" stroke="#000" stroke-width="1.8" stroke-linecap="butt"/>
<text x="782.50" y="929.21" font-size="29.3" fill="#000">40</text>
<line x1="826.90" y1="1070.30" x2="832.80" y2="1070.30" stroke="#000" stroke-width="1.8" stroke-linecap="butt"/>
<text x="782.50" y="1080.41" font-size="29.3" fill="#000">20</text>
<line x1="826.90" y1="1221.50" x2="832.80" y2="1221.50" stroke="#000" stroke-width="1.8" stroke-linecap="butt"/>
<text x="798.76" y="1231.61" font-size="29.3" fill="#000">0</text>
<line x1="886.00" y1="1237.30" x2="886.00" y2="1231.20" stroke="#000" stroke-width="1.8" stroke-linecap="butt"/>
<line x1="946.10" y1="1237.30" x2="946.10" y2="1231.20" stroke="#000" stroke-width="1.8" stroke-linecap="butt"/>
<line x1="1006.30" y1="1237.30" x2="1006.30" y2="1231.20" stroke="#000" stroke-width="1.8" stroke-linecap="butt"/>
<line x1="1066.20" y1="1237.30" x2="1066.20" y2="1231.20" stroke="#000" stroke-width="1.8" stroke-linecap="butt"/>
<line x1="1126.10" y1="1237.30" x2="1126.10" y2="1231.20" stroke="#000" stroke-width="1.8" stroke-linecap="butt"/>
<line x1="1186.10" y1="1237.30" x2="1186.10" y2="1231.20" stroke="#000" stroke-width="1.8" stroke-linecap="butt"/>
<line x1="1246.00" y1="1237.30" x2="1246.00" y2="1231.20" stroke="#000" stroke-width="1.8" stroke-linecap="butt"/>
<line x1="1305.80" y1="1237.30" x2="1305.80" y2="1231.20" stroke="#000" stroke-width="1.8" stroke-linecap="butt"/>
<polyline points="886.0,1221.5 946.1,1053.7 1006.3,969.8 1066.2,1113.4 1126.1,1221.5 1186.1,1221.5 1246.0,1121.0 1305.8,1221.5" fill="none" stroke="#f0b0dc" stroke-width="1.8"/>
<circle cx="886.00" cy="1221.50" r="7.8" fill="#f0b0dc"/>
<circle cx="946.10" cy="1053.67" r="7.8" fill="#f0b0dc"/>
<circle cx="1006.30" cy="969.75" r="7.8" fill="#f0b0dc"/>
<circle cx="1066.20" cy="1113.39" r="7.8" fill="#f0b0dc"/>
<circle cx="1126.10" cy="1221.50" r="7.8" fill="#f0b0dc"/>
<circle cx="1186.10" cy="1221.50" r="7.8" fill="#f0b0dc"/>
<circle cx="1246.00" cy="1120.95" r="7.8" fill="#f0b0dc"/>
<circle cx="1305.80" cy="1221.50" r="7.8" fill="#f0b0dc"/>
<polyline points="886.0,1145.9 946.1,1221.5 1006.3,1137.6 1066.2,1113.4 1126.1,1113.4 1186.1,1113.4 1246.0,969.8 1305.8,1170.8" fill="none" stroke="#a8334b" stroke-width="1.8"/>
<circle cx="886.00" cy="1145.90" r="7.8" fill="#a8334b"/>
<circle cx="946.10" cy="1221.50" r="7.8" fill="#a8334b"/>
<circle cx="1006.30" cy="1137.58" r="7.8" fill="#a8334b"/>
<circle cx="1066.20" cy="1113.39" r="7.8" fill="#a8334b"/>
<circle cx="1126.10" cy="1113.39" r="7.8" fill="#a8334b"/>
<circle cx="1186.10" cy="1113.39" r="7.8" fill="#a8334b"/>
<circle cx="1246.00" cy="969.75" r="7.8" fill="#a8334b"/>
<circle cx="1305.80" cy="1170.85" r="7.8" fill="#a8334b"/>
<text x="1025.46" y="833.80" font-size="29.3" fill="#000">Merging pattern</text>
<line x1="1013.70" y1="866.40" x2="1086.00" y2="866.40" stroke="#f0b0dc" stroke-width="1.8" stroke-linecap="butt"/>
<circle cx="1049.70" cy="866.40" r="8.2" fill="#f0b0dc"/>
<line x1="1013.70" y1="911.90" x2="1086.00" y2="911.90" stroke="#a8334b" stroke-width="1.8" stroke-linecap="butt"/>
<circle cx="1049.70" cy="911.90" r="8.2" fill="#a8334b"/>
<text x="1096.67" y="874.60" font-size="25.0" fill="#000">S0- 3+12</text>
<text x="1096.67" y="919.80" font-size="25.0" fill="#000">S0- 4+5+7</text>
<text x="0" y="0" font-size="29.3" fill="#000" transform="translate(720.90,1184.43) rotate(-90)">% Subjects with</text>
<text x="0" y="0" font-size="29.3" fill="#000" transform="translate(755.40,1181.00) rotate(-90)">merging pattern</text>
<text x="808.36" y="1269.50" font-size="29.3" fill="#000">Presch.</text>
<text x="938.13" y="1269.50" font-size="29.3" fill="#000">0</text>
<text x="976.33" y="1269.50" font-size="29.3" fill="#000">2mo</text>
<text x="1057.63" y="1269.50" font-size="29.3" fill="#000">0</text>
<text x="1117.93" y="1269.50" font-size="29.3" fill="#000">3</text>
<text x="1157.04" y="1269.50" font-size="29.3" fill="#000">6mo</text>
<text x="1223.46" y="1269.50" font-size="29.3" fill="#000">Exp.</text>
<text x="1293.96" y="1269.50" font-size="29.3" fill="#000">Elite</text>
<line x1="942.40" y1="1285.50" x2="1020.80" y2="1285.50" stroke="#000" stroke-width="3.0" stroke-linecap="butt"/>
<line x1="1060.40" y1="1285.50" x2="1218.60" y2="1285.50" stroke="#000" stroke-width="3.0" stroke-linecap="butt"/>
<text x="914.98" y="1319.80" font-size="29.3" fill="#000">Sedentary</text>
<text x="1094.06" y="1319.90" font-size="29.3" fill="#000">Novice</text>
<path d="M1335.6,1201.4 Q1325,1216.3 1335.6,1231.3 M1353.2,1201.4 Q1363.6,1216.3 1353.2,1231.3" fill="none" stroke="#df9edf" stroke-width="2.1"/>
<text x="1338.57" y="1229.41" font-size="29" fill="#df9edf">*</text>
</svg>
</body></html>
